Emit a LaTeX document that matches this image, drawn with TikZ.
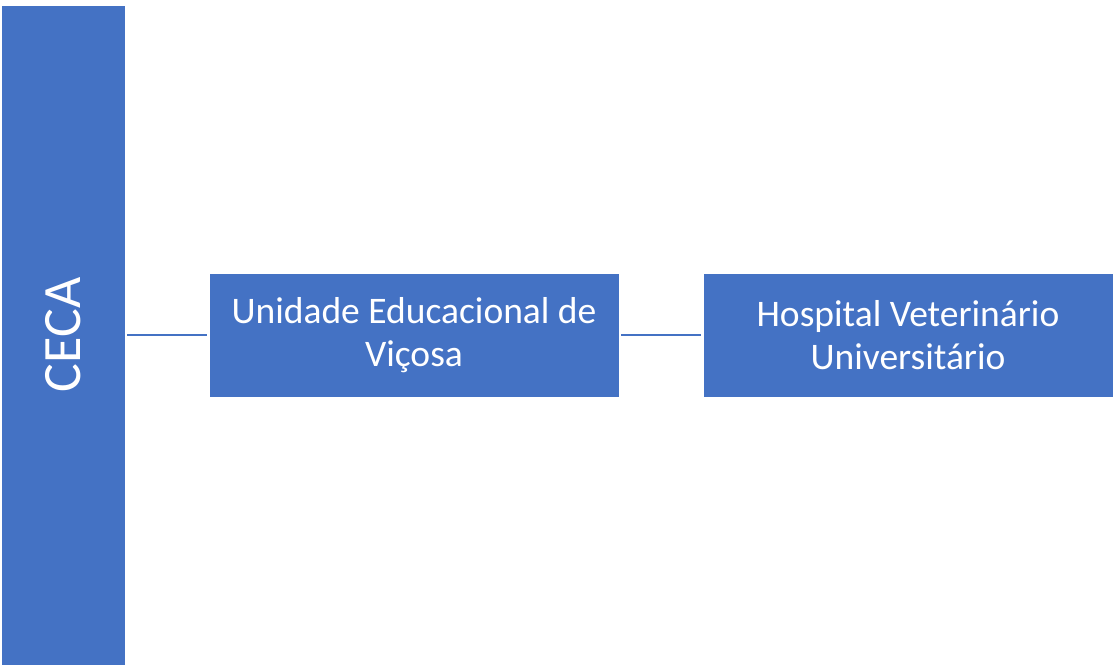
\documentclass[tikz,border=0pt]{standalone}
\usepackage{fontspec}
\setmainfont{Carlito}
\usepackage{tikz}
\definecolor{orgblue}{HTML}{4472C4}

\begin{document}
\begin{tikzpicture}[x=1pt, y=1pt,
		unitbox/.style = {fill=orgblue, draw=white, line width=.6pt, text=white, inner sep=0pt, align=center},
		link/.style = {orgblue, line width=1.5pt}]
		\useasboundingbox (0, 0) rectangle (1114, -668);
		\node[unitbox, minimum width=124, minimum height=660, font=\fontsize{54}{58}\selectfont] (ceca) at (63, -335) {\rotatebox{90}{CECA}};
		\node[unitbox, minimum width=410, minimum height=124, font=\fontsize{37.5}{43}\selectfont] (ued) at (414, -335) {Unidade Educacional de\\Viçosa};
		\node[unitbox, minimum width=410, minimum height=124, font=\fontsize{37.5}{43}\selectfont] (hvu) at (908, -335) {Hospital Veterinário\\Universitário};
		\draw[link] ([xshift=2pt]ceca.east) -- ([xshift=-2pt]ued.west);
		\draw[link] ([xshift=2pt]ued.east) -- ([xshift=-2pt]hvu.west);
	\end{tikzpicture}
\end{document}
